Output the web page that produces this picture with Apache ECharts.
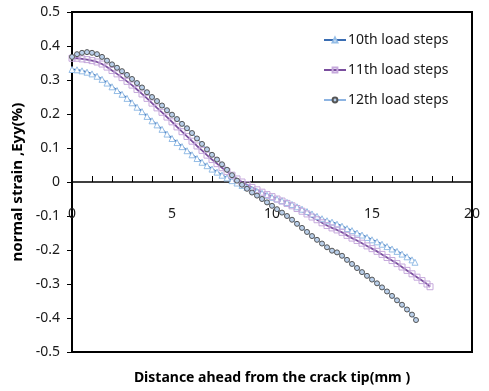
<!DOCTYPE html>
<html>
<head>
<meta charset="utf-8">
<script src="https://cdn.jsdelivr.net/npm/echarts@6/dist/echarts.min.js"></script>
<style>html,body{margin:0;padding:0;background:#fff}#c{width:489px;height:391px}</style>
</head>
<body>
<div id="c"></div>
<script>
// Distance ahead from the crack tip (mm)
const x10 = [0,0.25,0.5,0.75,1,1.25,1.5,1.75,2,2.25,2.5,2.75,3,3.25,3.5,3.75,4,4.25,4.5,4.75,5,5.25,5.5,5.75,6,6.25,6.5,6.75,7,7.25,7.5,7.75,8,8.25,8.5,8.75,9,9.25,9.5,9.75,10,10.25,10.5,10.75,11,11.25,11.5,11.75,12,12.25,12.5,12.75,13,13.25,13.5,13.75,14,14.25,14.5,14.75,15,15.25,15.5,15.75,16,16.25,16.5,16.75,17,17.15];
const y10 = [0.331,0.330,0.327,0.323,0.318,0.311,0.302,0.291,0.280,0.269,0.258,0.246,0.233,0.220,0.207,0.193,0.180,0.168,0.155,0.141,0.128,0.116,0.104,0.092,0.080,0.069,0.058,0.048,0.038,0.029,0.020,0.012,0.004,-0.003,-0.010,-0.016,-0.022,-0.028,-0.033,-0.039,-0.045,-0.050,-0.055,-0.060,-0.066,-0.073,-0.080,-0.087,-0.094,-0.101,-0.108,-0.114,-0.118,-0.124,-0.130,-0.137,-0.143,-0.150,-0.156,-0.163,-0.170,-0.176,-0.183,-0.190,-0.197,-0.204,-0.212,-0.220,-0.229,-0.236];

const x11 = [0,0.25,0.5,0.75,1,1.25,1.5,1.75,2,2.25,2.5,2.75,3,3.25,3.5,3.75,4,4.25,4.5,4.75,5,5.25,5.5,5.75,6,6.25,6.5,6.75,7,7.25,7.5,7.75,8,8.25,8.5,8.75,9,9.25,9.5,9.75,10,10.25,10.5,10.75,11,11.25,11.5,11.75,12,12.25,12.5,12.75,13,13.25,13.5,13.75,14,14.25,14.5,14.75,15,15.25,15.5,15.75,16,16.25,16.5,16.75,17,17.25,17.5,17.75,17.9];
const y11 = [0.364,0.364,0.362,0.360,0.357,0.353,0.347,0.338,0.328,0.318,0.307,0.296,0.285,0.272,0.259,0.246,0.232,0.218,0.205,0.191,0.177,0.162,0.148,0.134,0.120,0.106,0.093,0.079,0.066,0.054,0.042,0.031,0.020,0.009,0.000,-0.008,-0.016,-0.023,-0.030,-0.037,-0.043,-0.050,-0.056,-0.063,-0.070,-0.078,-0.086,-0.094,-0.103,-0.111,-0.120,-0.128,-0.135,-0.141,-0.148,-0.157,-0.165,-0.172,-0.180,-0.188,-0.196,-0.204,-0.213,-0.222,-0.231,-0.240,-0.250,-0.260,-0.270,-0.280,-0.290,-0.300,-0.308];

const x12 = [0,0.25,0.5,0.75,1,1.25,1.5,1.75,2,2.25,2.5,2.75,3,3.25,3.5,3.75,4,4.25,4.5,4.75,5,5.25,5.5,5.75,6,6.25,6.5,6.75,7,7.25,7.5,7.75,8,8.25,8.5,8.75,9,9.25,9.5,9.75,10,10.25,10.5,10.75,11,11.25,11.5,11.75,12,12.25,12.5,12.75,13,13.25,13.5,13.75,14,14.25,14.5,14.75,15,15.25,15.5,15.75,16,16.25,16.5,16.75,17,17.2];
const y12 = [0.368,0.376,0.380,0.382,0.380,0.376,0.368,0.357,0.346,0.336,0.326,0.315,0.303,0.291,0.278,0.264,0.250,0.238,0.225,0.211,0.198,0.185,0.171,0.158,0.144,0.128,0.112,0.096,0.080,0.066,0.052,0.036,0.020,0.004,-0.008,-0.020,-0.031,-0.040,-0.050,-0.060,-0.070,-0.080,-0.090,-0.100,-0.111,-0.123,-0.135,-0.147,-0.159,-0.170,-0.181,-0.192,-0.202,-0.207,-0.217,-0.229,-0.241,-0.253,-0.265,-0.276,-0.287,-0.298,-0.310,-0.322,-0.335,-0.348,-0.361,-0.375,-0.390,-0.406];

const seriesNames = ['10th load steps','11th load steps','12th load steps'];
const xTickLabels = [0,5,10,15,20];

const zip = (xs, ys) => xs.map((x, i) => [x, ys[i]]);
const FONT = '"Noto Sans", "DejaVu Sans", sans-serif';

const chart = echarts.init(document.getElementById('c'), null, {renderer: 'canvas'});
chart.setOption({
  animation: false,
  backgroundColor: '#fff',
  grid: {left: 72, right: 17, top: 12, bottom: 39, show: true, borderColor: '#000', borderWidth: 2,
    backgroundColor: 'transparent', containLabel: false, outerBoundsMode: 'none'},
  legend: {
    orient: 'vertical', left: 318, top: 28, itemGap: 16, itemWidth: 22, itemHeight: 6,
    textStyle: {fontFamily: FONT, fontSize: 14, color: '#1a1a1a', padding: [0,0,0,-3]},
    data: seriesNames
  },
  xAxis: [
    {
      // labels + name (bottom)
      type: 'value', min: 0, max: 20, interval: 1, position: 'bottom',
      axisLine: {show: false, onZero: false},
      axisTick: {show: false},
      axisLabel: {margin: -145, fontFamily: FONT, fontSize: 14, color: '#1a1a1a',
        formatter: v => xTickLabels.indexOf(v) >= 0 ? String(v) : ''},
      splitLine: {show: false},
      name: 'Distance ahead from the crack tip(mm )', nameLocation: 'middle', nameGap: 19,
      nameTextStyle: {fontFamily: FONT, fontSize: 14, fontWeight: 'bold', color: '#000'}
    },
    {
      // zero line with ticks
      type: 'value', min: 0, max: 20, interval: 1, position: 'bottom',
      axisLine: {show: true, onZero: true, lineStyle: {color: '#000', width: 1.5}},
      axisTick: {show: true, inside: true, length: 6, lineStyle: {color: '#000', width: 1}},
      axisLabel: {show: false},
      splitLine: {show: false}
    }
  ],
  yAxis: {
    type: 'value', min: -0.5, max: 0.5, interval: 0.1,
    axisLine: {show: true, onZero: false, lineStyle: {color: '#000', width: 2}},
    axisTick: {show: true, inside: false, length: 5, lineStyle: {color: '#000', width: 1}},
    axisLabel: {margin: 12, fontFamily: FONT, fontSize: 14, color: '#1a1a1a',
      formatter: v => String(+v.toFixed(1))},
    splitLine: {show: false},
    name: 'normal strain ,Eyy(%)', nameLocation: 'middle', nameGap: 40,
    nameTextStyle: {fontFamily: FONT, fontSize: 15, fontWeight: 'bold', color: '#000'}
  },
  series: [
    {
      name: seriesNames[0], type: 'line', data: zip(x10, y10), showAllSymbol: true,
      symbol: 'triangle', symbolSize: 6,
      lineStyle: {color: '#3A6DB3', width: 1.8},
      itemStyle: {color: '#fff', borderColor: '#95BDE6', borderWidth: 1}
    },
    {
      name: seriesNames[1], type: 'line', data: zip(x11, y11), showAllSymbol: true,
      symbol: 'rect', symbolSize: 6,
      lineStyle: {color: '#7A4E9E', width: 1.8},
      itemStyle: {color: 'rgba(255,255,255,0)', borderColor: '#C6A9DC', borderWidth: 1}
    },
    {
      name: seriesNames[2], type: 'line', data: zip(x12, y12), showAllSymbol: true,
      symbol: 'circle', symbolSize: 5,
      lineStyle: {color: '#8DB4E2', width: 1.4},
      itemStyle: {color: '#B9CFEA', borderColor: '#555', borderWidth: 1}
    }
  ]
});
</script>
</body>
</html>
